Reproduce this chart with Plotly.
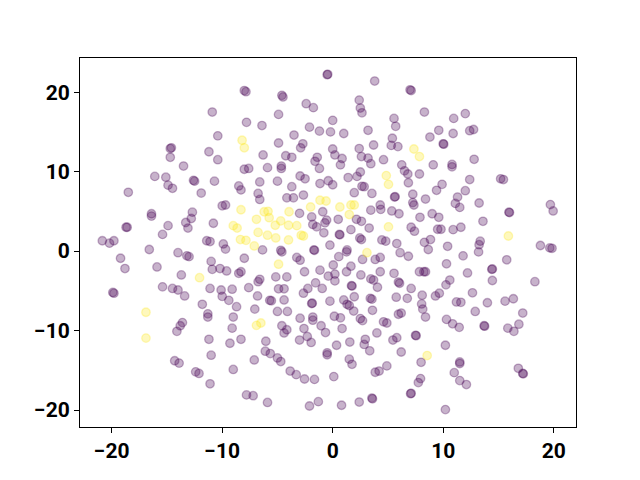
import plotly.graph_objects as go

# class 0 (purple) points
x0 = [-8.0, -7.85, -10.9, -7.8, -10.4, -14.7, -14.6, -14.7, -11.2, -10.4, -13.5, -8.0, -7.6, -16.1, -15.1,
      -12.6, -12.5, -10.7, -8.5, -8.3, -14.9, -14.5, -18.5, -11.9, -10.0, -9.7, -16.4, -16.4, -12.7, -12.8,
      -13.3, -13.1, -14.9, -15.4, -10.8, -18.7, -18.6, -20.85, -20.2, -19.8, -11.4, -11.1, -16.6, -14.0, -13.2,
      -13.0, -9.9, -9.7, -19.2, -8.0, -11.0, -15.9, -18.8, -10.9, -10.2, -9.6, -8.5, -8.3, -13.7, -19.9,
      -19.8, -15.4, -14.5, -14.0, -13.4, -11.1, -10.1, -9.1, -7.6, -10.0, -9.4, -11.8, -8.7, -11.3, -11.3,
      -13.6, -13.8, -14.1, -9.0, -9.1, -11.2, -9.3, -8.3, -11.0, -14.3, -13.9, -12.4, -12.1, -9.0, -11.1,
      -7.8, -7.1,
      -0.5, -0.45, 3.8, 7.0, 7.1, -4.6, -4.5, -2.4, -1.75, 2.4, 2.5, 2.65, -4.9, 0.0, -6.4, -2.1, -1.2, -0.2,
      1.0, 3.2, 5.55, 5.7, -3.5, -4.9, -2.7, -2.9, 5.4, 5.3, 5.9, 2.4, 3.7, -6.3, 0.0, 0.2, 0.85, 0.7, -4.25,
      -3.7, 2.6, 3.2, 3.45, -1.4, -1.6, 4.6, -5.9, -4.65, -4.65, -1.2, 6.25, 6.5, 6.8, -6.6, -5.0, -2.95,
      -2.5, -0.4, 0.0, -1.15, 1.4, 2.2, 2.5, 2.65, 2.85, 6.85, -3.7,
      8.3, 10.95, 12.0, 9.6, 8.8, 10.9, 12.4, 12.75, 10.0, 10.05, 9.1, 10.8, 10.8, 12.8, 7.85, 12.4, 15.2,
      15.45, 9.9,
      9.4, 7.25, 7.25, 7.35, 8.4, 11.3, 12.0, 11.1, 11.5, 13.25, 16.0, 15.95, 19.7, 19.95, 7.9, 9.0, 9.6,
      13.6, 7.1, 7.4, 9.5, 9.8, 10.9, 11.6, 8.3, 8.85, 8.65, 13.35, 13.25, 13.2, 10.4, 18.8, 19.65, 19.85,
      11.8, 15.75, 10.3, 7.85, 8.25, 8.4, 12.2, 14.45, 14.4, 14.45, 18.3, 10.6, 10.25, 7.1, 12.65, 9.65,
      9.3, 8.1, 11.2, 11.6, 14.0, 15.6, 16.35, 8.05,
      8.15, 8.4, 12.9, 17.2, 10.3, 10.85, 11.45, 13.7, 13.75, 15.85, 16.4, 16.85, 7.55, 7.5, 10.2, 8.0,
      11.5, 11.5, 11.0, 11.5, 12.1, 7.95, 7.75, 7.05, 7.1, 16.8, 17.2, 17.25, 10.2,
      -7.05, -5.7, -5.55, -5.0, -4.1, -1.9, -1.85, -0.25, 1.0, 1.3, 1.5, 3.4, 3.55, 5.75, -2.95, -1.8, -1.8,
      0.15, 0.7, 1.9, 2.5, 2.7, 3.6, 5.95, 6.2, 4.6, 4.9, -4.6, -4.15, -4.4, -2.6, -1.05, -0.65, 0.85, 4.0,
      -6.05, -3.0, -2.3, -1.95, 0.35, 1.55, 2.85, 2.95, 3.35, 5.45, 5.8, 6.2, -6.1, -5.65, -5.0, -4.7, -0.5,
      -0.5, 1.5, 1.75, -3.85, -3.3, -2.55, -1.65, 0.1, 3.85, 4.2, 4.9, -7.2, -5.9, -2.1, -1.3, 0.8, 2.4,
      3.55, 3.6,
      -6.75, -6.6, -4.15, -3.55, -2.65, 1.95, 3.55, 5.6, 5.65, 4.3, 4.35, 3.45, 5.35, 6.0, -3.0, -1.9, -1.8,
      -0.9, -0.55, -0.7, -0.8, 0.5, 2.15, 2.6, 3.3, -1.45, 0.6, 0.65, 1.65, 2.45, 2.6, 4.45, 4.8, 5.8,
      -0.25, -6.35, -4.7, -4.6, -1.7, -1.65, 1.3, 1.25, 6.1, 6.85, -3.25, -2.95, 0.55, 2.7, 3.85, 4.3,
      -1.15, 0.05, 0.2, -2.55, 1.25, 1.65, 4.3, 5.55, -5.15, -4.15, -6.6, -6.75, -0.4, 0.2, 2.55, 3.45,
      3.7, -2.25, -1.55, -0.95, 1.7, 1.75, -4.9, -4.4, 4.05, 5.95, 6.05, -6.8, -4.4, -2.65, 1.95, 6.75]
y0 = [20.2, 20.06, 17.5, 16.2, 14.5, 12.9, 13.0, 11.8, 12.5, 11.5, 10.7, 10.3, 10.4, 9.4, 9.3,
      8.9, 8.8, 8.8, 8.2, 7.7, 8.3, 7.9, 7.4, 7.3, 5.7, 5.8, 4.7, 4.4, 4.9, 4.1,
      3.6, 2.9, 3.2, 2.1, 3.5, 3.0, 3.0, 1.3, 1.0, 1.3, 1.3, 1.2, 0.2, -0.2, -0.6,
      -0.7, 0.9, 0.25, -0.9, -0.9, -1.3, -2.0, -2.2, -2.3, -2.2, -2.5, -2.8, -2.6, -3.0, -5.2,
      -5.3, -4.5, -4.7, -4.9, -5.65, -4.7, -4.9, -4.8, -4.6, -5.7, -6.2, -6.7, -7.0, -7.9, -8.3,
      -9.0, -9.4, -10.1, -8.3, -9.7, -11.1, -11.6, -11.1, -13.1, -13.8, -14.1, -15.2, -15.4, -14.9, -16.7,
      -18.1, -13.7,
      22.2, 22.25, 21.4, 20.3, 20.2, 19.6, 19.4, 18.55, 18.05, 19.0, 18.0, 17.4, 17.2, 16.45, 15.8, 15.6, 15.1, 15.0,
      14.8, 15.2, 16.7, 15.7, 14.6, 13.6, 13.5, 13.0, 14.2, 13.3, 13.15, 12.9, 13.35, 12.1, 12.85, 12.1, 11.65, 10.85, 12.0,
      11.8, 11.9, 11.7, 11.0, 11.8, 11.3, 11.5, 10.5, 10.7, 10.4, 10.4, 10.85, 10.1, 9.7, 8.7, 8.8, 9.45,
      9.1, 8.85, 8.35, 8.5, 9.25, 9.4, 9.95, 8.15, 8.1, 8.6, 8.1,
      17.5, 16.7, 17.3, 15.2, 14.35, 14.8, 15.15, 15.3, 13.5, 13.45, 10.85, 10.9, 10.6, 11.55, 9.7, 9.0, 9.1,
      9.0, 8.4,
      7.65, 7.15, 6.1, 5.8, 6.55, 6.8, 7.6, 6.0, 5.5, 6.05, 4.85, 4.9, 5.85, 5.05, 4.25, 4.7, 4.25,
      3.75, 3.0, 2.5, 2.75, 2.75, 2.7, 3.0, 1.1, 1.45, 0.2, 1.25, 0.8, -0.1, 0.6, 0.7, 0.4, 0.35,
      -0.6, -1.1, -1.6, -2.6, -2.6, -2.6, -2.75, -2.25, -2.3, -3.7, -3.85, -3.65, -4.25, -4.7, -5.25, -5.3,
      -5.65, -5.55, -6.4, -6.45, -6.5, -6.3, -6.0, -6.65,
      -7.3, -8.3, -7.6, -7.8, -8.6, -9.15, -9.6, -9.4, -9.45, -9.7, -10.1, -9.2, -10.65, -10.6, -11.85, -14.0,
      -13.95, -14.15, -15.3, -16.3, -16.8, -16.05, -16.55, -17.95, -17.9, -14.75, -15.4, -15.45, -19.95,
      -7.3, -6.2, -6.25, -7.6, -7.6, -6.6, -6.55, -6.3, -6.15, -6.7, -6.85, -5.95, -6.05, -5.8, -8.45, -8.3, -8.7,
      -8.2, -8.4, -7.55, -8.5, -8.75, -7.45, -7.95, -7.8, -8.9, -9.05, -9.4, -9.9, -10.3, -9.75, -9.4, -10.25, -9.75, -10.3,
      -11.35, -11.2, -10.75, -11.5, -11.85, -11.45, -11.75, -11.1, -12.55, -11.2, -10.9, -12.7, -12.6, -12.9, -13.45, -13.9, -12.8,
      -13.05, -13.6, -14.25, -15.1, -15.55, -16.1, -16.15, -15.8, -15.25, -15.1, -14.45, -18.2, -19.05, -19.5, -18.95, -19.4, -19.0,
      -18.5, -18.6,
      7.25, 6.5, 6.7, 6.7, 7.05, 7.35, 7.25, 6.8, 6.85, 5.8, 5.25, 5.15, 5.05, 4.7, 4.75, 4.3, 3.35,
      4.95, 3.9, 3.55, 2.3, 4.0, 4.0, 3.75, 2.9, 3.05, 2.1, 2.05, 2.7, 1.65, 1.45, 1.4, 1.25, 0.95,
      0.75, 0.15, 0.1, -0.1, 0.15, 0.1, 0.15, -0.1, -0.2, -0.65, -0.8, -1.15, -0.7, -1.05, -1.05, -0.8,
      -2.4, -1.75, -2.9, -2.6, -2.6, -1.9, -2.6, -2.8, -3.25, -3.25, -3.55, -3.85, -3.15, -3.75, -3.0, -3.5,
      -3.65, -4.7, -4.0, -4.7, -4.35, -4.4, -4.75, -4.75, -4.55, -3.9, -4.05, -5.65, -6.15, -5.3, -5.75, -5.95]

# class 1 (yellow) points
x1 = [-8.2, -8.0, -8.3, -9.0, -8.65, -8.35, -7.85, -12.05, -16.9, -16.9, 7.35, 7.85, 4.85, 5.05,
      -1.15, -0.6, -2.0, 0.65, 1.65, 1.95, 1.5, -6.2, -5.85, -5.75, -6.9, -4.7, -5.2, -3.95, -4.0,
      -3.25, 5.05, -6.75, -5.9, -5.15, -4.0, -2.85, -2.65, -7.1, 3.1, -4.9, -6.9, -6.5, 15.9, 8.55]
y1 = [13.95, 13.0, 5.2, 3.2, 2.9, 1.45, 1.35, -3.35, -7.7, -10.95, 12.85, 11.9, 9.5, 8.4,
      6.4, 6.3, 5.55, 5.55, 5.8, 5.8, 4.6, 4.95, 5.0, 4.2, 4.0, 3.8, 3.25, 4.95, 3.25,
      3.2, 3.05, 2.35, 2.0, 1.65, 1.4, 2.0, 1.9, 0.65, -0.2, -1.65, -9.35, -9.05, 1.9, -13.15]

tick_vals = [-20, -10, 0, 10, 20]

purple = "rgba(68,1,84,0.3)"
yellow = "rgba(253,231,37,0.3)"

fig = go.Figure()
fig.add_trace(go.Scatter(x=x0, y=y0, mode="markers",
                         marker=dict(size=8.5, color=purple, line=dict(color=purple, width=1.3)),
                         showlegend=False, hoverinfo="skip"))
fig.add_trace(go.Scatter(x=x1, y=y1, mode="markers",
                         marker=dict(size=8.5, color=yellow, line=dict(color=yellow, width=1.3)),
                         showlegend=False, hoverinfo="skip"))

axis_common = dict(showgrid=False, zeroline=False, showline=True, mirror=True,
                   linecolor="black", linewidth=1.1, ticks="outside", ticklen=5,
                   tickwidth=1.1, tickcolor="black", tickvals=tick_vals,
                   tickfont=dict(family="Roboto", size=21, color="black", weight="bold"))

# page body adds an 8px offset; size the figure so the axes land where the reference has them
fig.update_layout(
    width=632, height=472,
    margin=dict(l=72, r=64, t=50, b=53),
    plot_bgcolor="white", paper_bgcolor="white",
    xaxis=dict(range=[-22.87, 22.02], **axis_common),
    yaxis=dict(range=[-22.14, 24.3], **axis_common),
)

fig.write_html("out.html")
